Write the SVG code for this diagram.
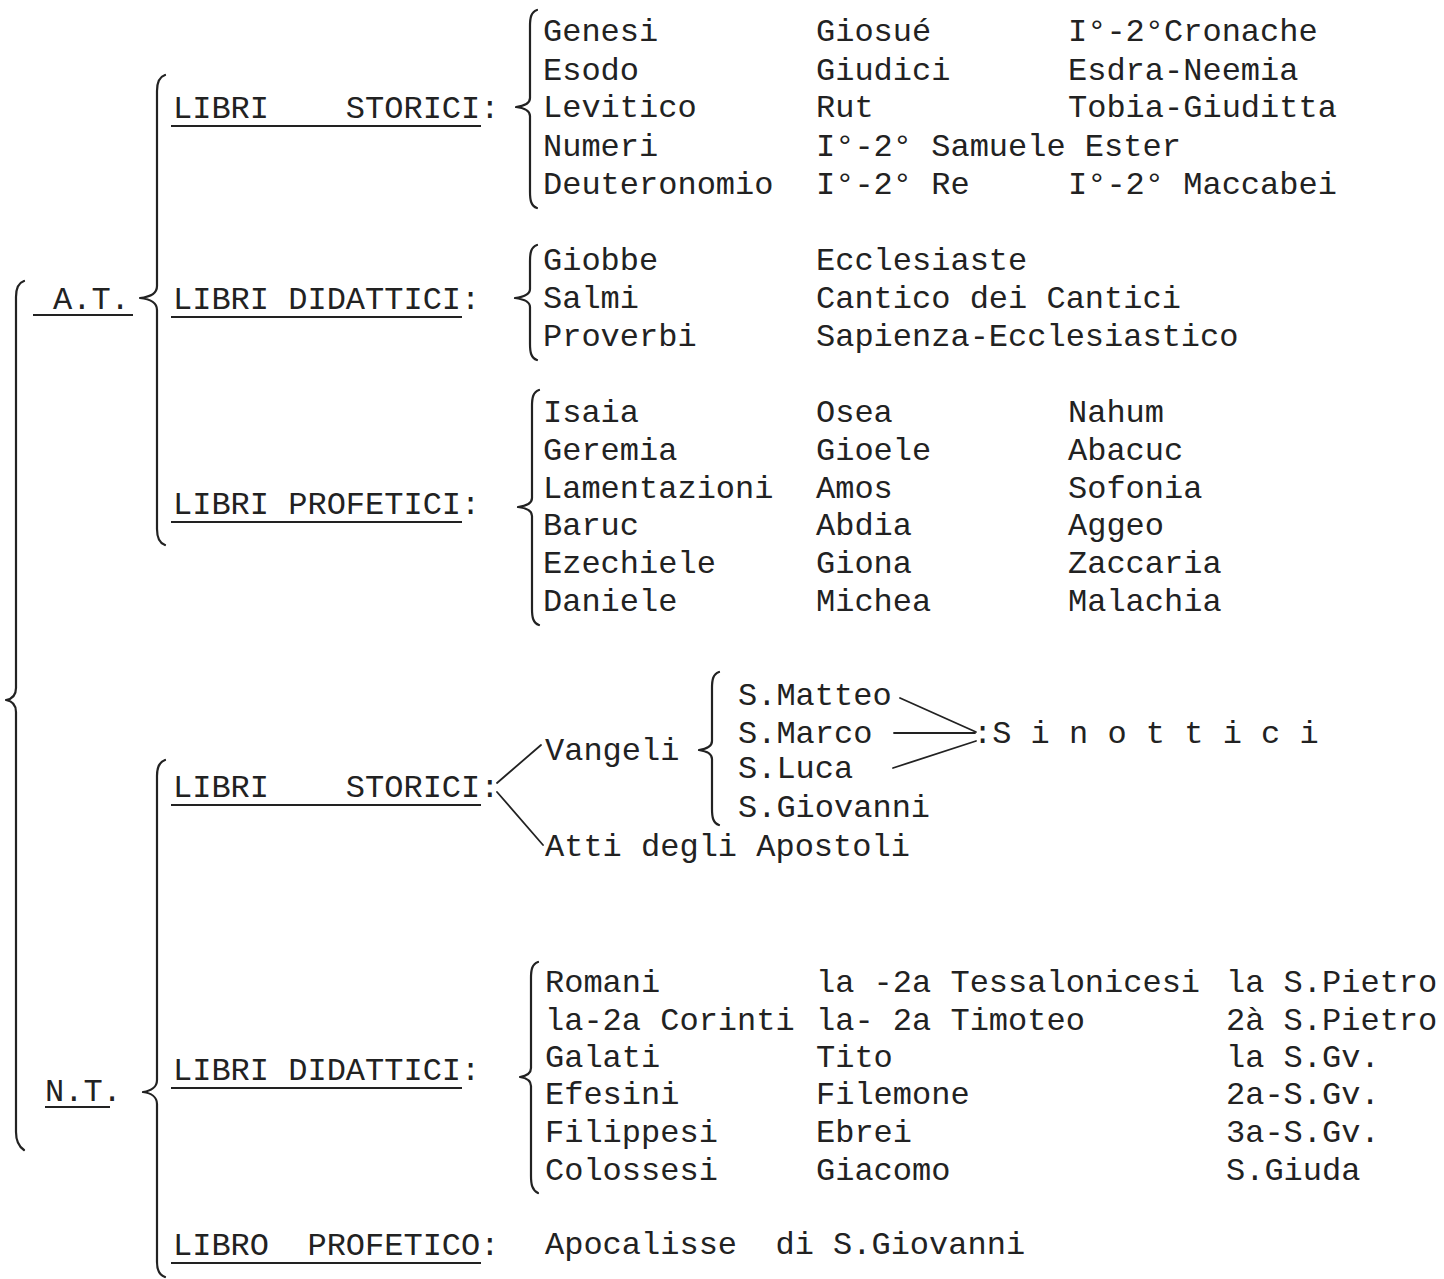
<svg xmlns="http://www.w3.org/2000/svg" width="1444" height="1279" viewBox="0 0 1444 1279">
<style>
text{font-family:"Liberation Mono","DejaVu Sans Mono",monospace;font-size:32px;fill:#222222;white-space:pre;}
.u{stroke:#222222;stroke-width:2;fill:none;}
.b{fill:none;stroke:#222222;stroke-width:2.2;stroke-linecap:round;stroke-linejoin:round;}
.l{fill:none;stroke:#222222;stroke-width:1.8;stroke-linecap:round;}
</style>
<rect width="1444" height="1279" fill="#ffffff"/>

<g id="connectors">
  <!-- outer brace -->
  <path class="b" d="M24 281 C18 283 16 289 16 297 L16 688 C16 695 12 699 6 700 C12 701 16 705 16 712 L16 1132 C16 1140 18 1146 24 1150"/>
  <!-- A.T. brace -->
  <path class="b" d="M165 75 C159 77 157 83 157 91 L157 286 C157 293 150 297 140 298 C150 299 157 303 157 310 L157 529 C157 537 159 543 165 545"/>
  <!-- N.T. brace -->
  <path class="b" d="M165 760 C159 762 157 768 157 776 L157 1080 C157 1087 151 1091 143 1092 C151 1093 157 1097 157 1104 L157 1262 C157 1270 159 1275 165 1277"/>
  <!-- AT storici brace -->
  <path class="b" d="M537 10 C531 12 530 18 530 26 L530 98 C530 104 524 106 516 107 C524 108 530 110 530 116 L530 192 C530 200 531 206 537 208"/>
  <!-- AT didattici brace -->
  <path class="b" d="M537 245 C531 247 530 253 530 261 L530 289 C530 295 523 297 515 298 C523 299 530 301 530 307 L530 344 C530 352 531 358 537 360"/>
  <!-- AT profetici brace -->
  <path class="b" d="M539 390 C533 392 532 398 532 406 L532 498 C532 504 526 506 518 507 C526 508 532 510 532 516 L532 609 C532 617 533 623 539 625"/>
  <!-- NT storici branches -->
  <path class="l" d="M497 783 L541 745"/>
  <path class="l" d="M497 792 L543 845"/>
  <!-- gospels brace -->
  <path class="b" d="M719 672 C713 674 712 680 712 688 L712 741 C712 747 706 749 699 750 C706 751 712 753 712 759 L712 809 C712 817 713 823 719 825"/>
  <!-- sinottici lines -->
  <path class="l" d="M900 698 L976 732"/>
  <path class="l" d="M894 733 L975 733"/>
  <path class="l" d="M893 768 L976 741"/>
  <!-- NT didattici brace -->
  <path class="b" d="M538 962 C532 964 531 970 531 978 L531 1068 C531 1074 526 1076 520 1077 C526 1078 531 1080 531 1086 L531 1176 C531 1184 532 1190 538 1193"/>
</g>

<g id="at">
  <text x="53" y="309">A.T.</text>
  <line class="u" x1="33" y1="315" x2="133" y2="315"/>
</g>
<g id="nt">
  <text x="45" y="1101">N.T.</text>
  <line class="u" x1="45" y1="1107" x2="110" y2="1107"/>
</g>

<g id="at-storici">
  <text x="173" y="118">LIBRI    STORICI:</text>
  <line class="u" x1="171" y1="126" x2="481" y2="126"/>
</g>
<g id="at-didattici">
  <text x="173" y="309">LIBRI DIDATTICI:</text>
  <line class="u" x1="171" y1="317" x2="462" y2="317"/>
</g>
<g id="at-profetici">
  <text x="173" y="514">LIBRI PROFETICI:</text>
  <line class="u" x1="171" y1="522" x2="462" y2="522"/>
</g>
<g id="nt-storici">
  <text x="173" y="797">LIBRI    STORICI:</text>
  <line class="u" x1="171" y1="805" x2="481" y2="805"/>
</g>
<g id="nt-didattici">
  <text x="173" y="1080">LIBRI DIDATTICI:</text>
  <line class="u" x1="171" y1="1088" x2="462" y2="1088"/>
</g>
<g id="nt-profetico">
  <text x="173" y="1255">LIBRO  PROFETICO:</text>
  <line class="u" x1="171" y1="1263" x2="481" y2="1263"/>
</g>

<g id="at-storici-libri">
  <text x="543" y="41">Genesi</text>
  <text x="543" y="80">Esodo</text>
  <text x="543" y="117">Levitico</text>
  <text x="543" y="156">Numeri</text>
  <text x="543" y="194">Deuteronomio</text>
  <text x="816" y="41">Giosué</text>
  <text x="816" y="80">Giudici</text>
  <text x="816" y="117">Rut</text>
  <text x="816" y="156">I°-2° Samuele Ester</text>
  <text x="816" y="194">I°-2° Re</text>
  <text x="1068" y="41">I°-2°Cronache</text>
  <text x="1068" y="80">Esdra-Neemia</text>
  <text x="1068" y="117">Tobia-Giuditta</text>
  <text x="1068" y="194">I°-2° Maccabei</text>
</g>

<g id="at-didattici-libri">
  <text x="543" y="270">Giobbe</text>
  <text x="543" y="308">Salmi</text>
  <text x="543" y="346">Proverbi</text>
  <text x="816" y="270">Ecclesiaste</text>
  <text x="816" y="308">Cantico dei Cantici</text>
  <text x="816" y="346">Sapienza-Ecclesiastico</text>
</g>

<g id="at-profetici-libri">
  <text x="543" y="422">Isaia</text>
  <text x="543" y="460">Geremia</text>
  <text x="543" y="498">Lamentazioni</text>
  <text x="543" y="535">Baruc</text>
  <text x="543" y="573">Ezechiele</text>
  <text x="543" y="611">Daniele</text>
  <text x="816" y="422">Osea</text>
  <text x="816" y="460">Gioele</text>
  <text x="816" y="498">Amos</text>
  <text x="816" y="535">Abdia</text>
  <text x="816" y="573">Giona</text>
  <text x="816" y="611">Michea</text>
  <text x="1068" y="422">Nahum</text>
  <text x="1068" y="460">Abacuc</text>
  <text x="1068" y="498">Sofonia</text>
  <text x="1068" y="535">Aggeo</text>
  <text x="1068" y="573">Zaccaria</text>
  <text x="1068" y="611">Malachia</text>
</g>

<g id="vangeli">
  <text x="545" y="760">Vangeli</text>
</g>
<g id="evangelisti">
  <text x="738" y="705">S.Matteo</text>
  <text x="738" y="743">S.Marco</text>
  <text x="738" y="778">S.Luca</text>
  <text x="738" y="817">S.Giovanni</text>
</g>
<g id="sinottici">
  <text x="973" y="743">:S i n o t t i c i</text>
</g>
<g id="atti">
  <text x="545" y="856">Atti degli Apostoli</text>
</g>

<g id="nt-didattici-libri">
  <text x="545" y="992">Romani</text>
  <text x="545" y="1030">la-2a Corinti</text>
  <text x="545" y="1067">Galati</text>
  <text x="545" y="1104">Efesini</text>
  <text x="545" y="1142">Filippesi</text>
  <text x="545" y="1180">Colossesi</text>
  <text x="816" y="992">la -2a Tessalonicesi</text>
  <text x="816" y="1030">la- 2a Timoteo</text>
  <text x="816" y="1067">Tito</text>
  <text x="816" y="1104">Filemone</text>
  <text x="816" y="1142">Ebrei</text>
  <text x="816" y="1180">Giacomo</text>
  <text x="1226" y="992">la S.Pietro</text>
  <text x="1226" y="1030">2à S.Pietro</text>
  <text x="1226" y="1067">la S.Gv.</text>
  <text x="1226" y="1104">2a-S.Gv.</text>
  <text x="1226" y="1142">3a-S.Gv.</text>
  <text x="1226" y="1180">S.Giuda</text>
</g>

<g id="apocalisse">
  <text x="545" y="1254">Apocalisse  di S.Giovanni</text>
</g>
</svg>
